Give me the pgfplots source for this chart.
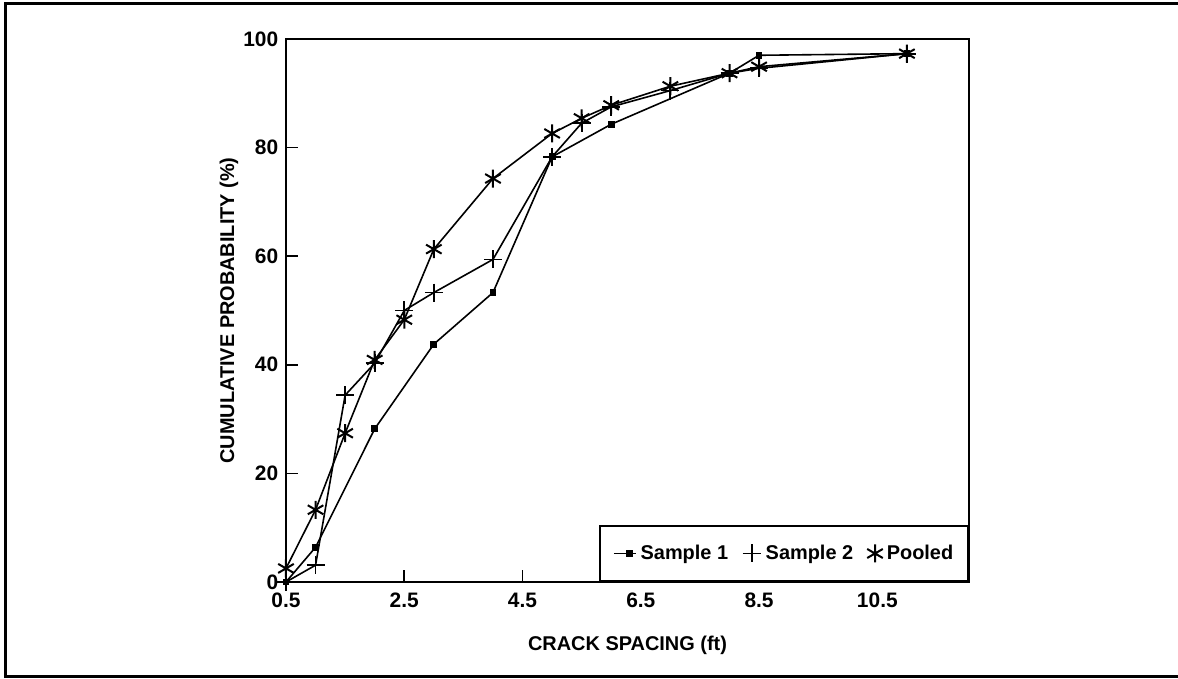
\documentclass[border=0pt]{standalone}
\usepackage{pgfplots}
\pgfplotsset{compat=1.18}
\usepackage{fontspec}
\setmainfont{Liberation Sans}
\pgfplotsset{
  legA/.style={legend image code/.code={\draw[mark repeat=2,mark phase=2,##1] plot coordinates {(0bp,0bp)(16bp,0bp)(22bp,0bp)};}},
  legB/.style={legend image code/.code={\draw[mark repeat=2,mark phase=2,##1] plot coordinates {(0bp,0bp)(9bp,0bp)(18bp,0bp)};}},
  legC/.style={legend image code/.code={\draw[##1, only marks] plot coordinates {(9bp,0bp)};}},
}
\begin{document}
\fontsize{20}{24}\selectfont\bfseries
\begin{tikzpicture}[x=1bp,y=1bp]
\useasboundingbox (-286,-97) rectangle (892,582);
\draw[line width=3bp] (892,578) -- (-280,578) -- (-280,-95) -- (892,-95);
\begin{axis}[
  at={(0,0)}, anchor=south west,
  scale only axis, width=683bp, height=543bp,
  xmin=0.5, xmax=12.05, ymin=0, ymax=100,
  xtick={0.5,2.5,4.5,6.5,8.5,10.5},
  ytick={0,20,40,60,80,100},
  xticklabels={0.5,2.5,4.5,6.5,8.5,10.5},
  yticklabels={0,20,40,60,80,100},
  tick align=inside, tick pos=left,
  major tick length=12bp,
  axis line style={line width=2bp},
  every tick/.style={line width=1.6bp, black},
  tick label style={font=\fontsize{21}{24}\selectfont\bfseries},
  xticklabel style={yshift=-4bp},
  yticklabel style={xshift=-1bp},
  xlabel={CRACK SPACING (ft)},
  ylabel={CUMULATIVE PROBABILITY (\%)},
  label style={font=\fontsize{20}{24}\selectfont\bfseries},
  xlabel style={at={(axis description cs:0.5,-0.116)}, anchor=center},
  ylabel style={at={(axis description cs:-0.0835,0.5)}, anchor=center, rotate=0},
  clip=false,
  legend columns=-1,
  legend style={at={(1,0)}, anchor=south east, draw=black, line width=1.6bp,
    font=\fontsize{20}{24}\selectfont\bfseries, inner xsep=13bp, inner ysep=17bp,
    /tikz/every odd column/.append style={column sep=2bp},
    /tikz/every even column/.append style={column sep=12bp}},
  legend cell align=left,
]
\addplot[black, line width=1.6bp, mark=square*, mark size=2.6bp,
  mark options={solid}, legA]
coordinates {(0.5,0) (1,6.4) (2,28.2) (3,43.8) (4,53.3) (5,78.3) (6,84.3) (8,93.7) (8.5,97.0) (11,97.3)};
\addlegendentry{Sample 1}
\addplot[black, line width=1.6bp, mark=+, mark size=9bp,
  mark options={solid, line width=1.8bp}, legB]
coordinates {(0.5,0) (1,3.1) (1.5,34.4) (2,40.3) (2.5,50.0) (3,53.3) (4,59.4) (5,78.3) (5.5,84.5) (6,87.5) (7,90.5) (8,93.7) (8.5,94.6) (11,97.3)};
\addlegendentry{Sample 2}
\addplot[black, line width=1.6bp, mark=asterisk, mark size=9bp,
  mark options={solid, line width=2bp}, legC]
coordinates {(0.5,2.5) (1,13.3) (1.5,27.4) (2,40.9) (2.5,48.3) (3,61.3) (4,74.3) (5,82.6) (5.5,85.4) (6,87.8) (7,91.3) (8,93.7) (8.5,94.9) (11,97.3)};
\addlegendentry{Pooled}
\end{axis}
\end{tikzpicture}
\end{document}
